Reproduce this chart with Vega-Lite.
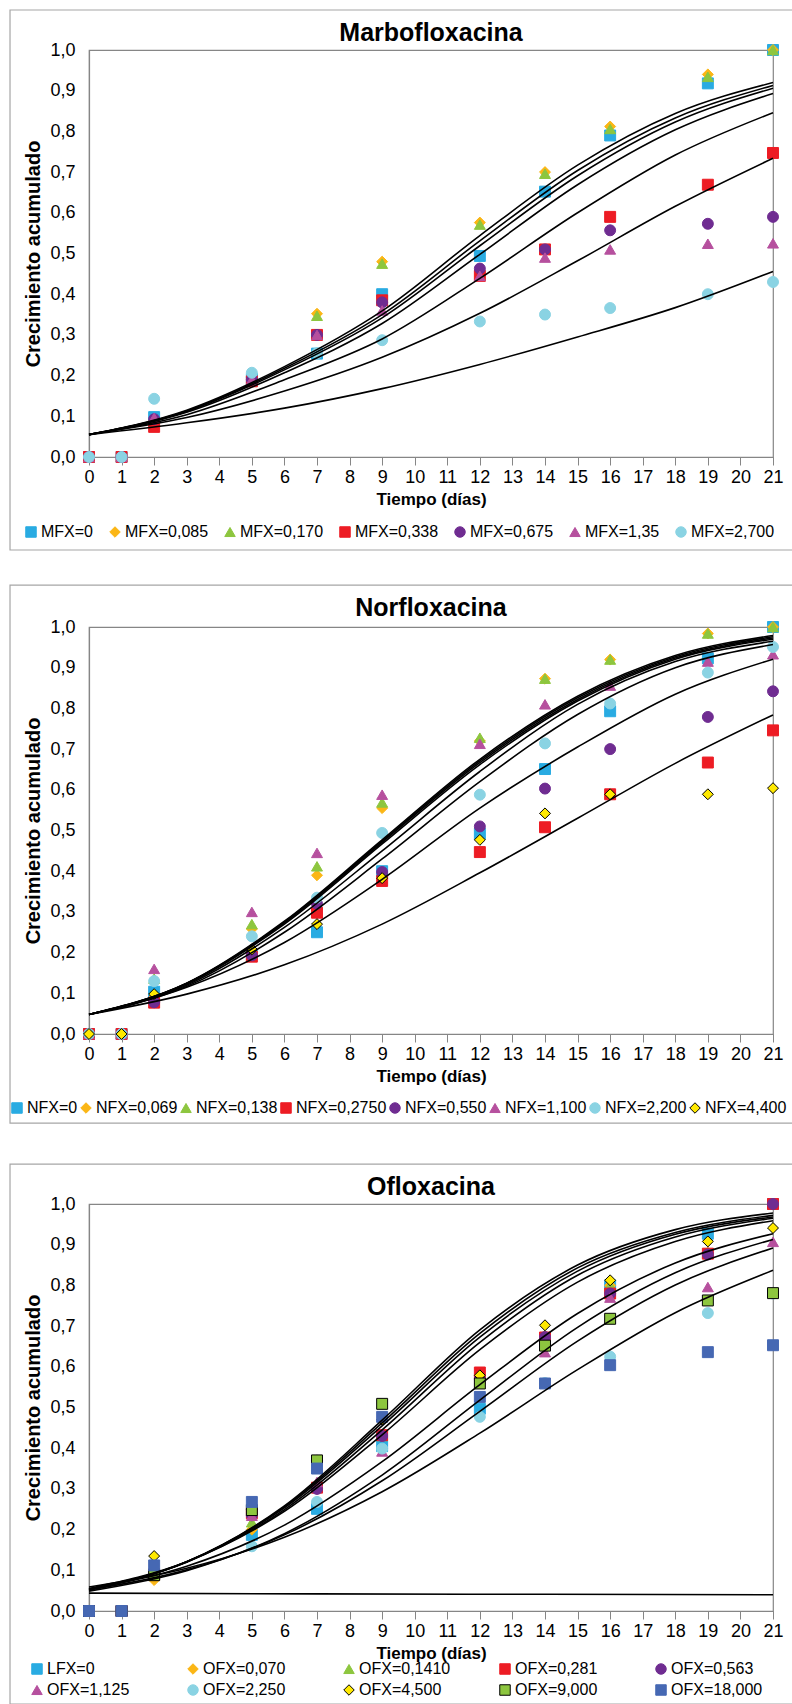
{
  "$schema": "https://vega.github.io/schema/vega-lite/v6.json",
  "background": "white",
  "padding": {"top": 8, "left": 8, "right": 0, "bottom": 0},
  "spacing": 170,
  "bounds": "flush",
  "resolve": {"scale": {"fill": "independent", "stroke": "independent", "shape": "independent"}},
  "datasets": {
    "frame": [{"k": "frame"}],
    "m_pts": [
      {"s":"MFX=0","t":0,"v":0},{"s":"MFX=0","t":1,"v":0},{"s":"MFX=0","t":2,"v":0.098},{"s":"MFX=0","t":5,"v":0.192},{"s":"MFX=0","t":7,"v":0.254},{"s":"MFX=0","t":9,"v":0.4},{"s":"MFX=0","t":12,"v":0.494},{"s":"MFX=0","t":14,"v":0.652},{"s":"MFX=0","t":16,"v":0.79},{"s":"MFX=0","t":19,"v":0.918},{"s":"MFX=0","t":21,"v":1},
      {"s":"MFX=0,085","t":0,"v":0},{"s":"MFX=0,085","t":1,"v":0},{"s":"MFX=0,085","t":2,"v":0.09},{"s":"MFX=0,085","t":5,"v":0.195},{"s":"MFX=0,085","t":7,"v":0.352},{"s":"MFX=0,085","t":9,"v":0.48},{"s":"MFX=0,085","t":12,"v":0.576},{"s":"MFX=0,085","t":14,"v":0.7},{"s":"MFX=0,085","t":16,"v":0.812},{"s":"MFX=0,085","t":19,"v":0.94},{"s":"MFX=0,085","t":21,"v":1},
      {"s":"MFX=0,170","t":0,"v":0},{"s":"MFX=0,170","t":1,"v":0},{"s":"MFX=0,170","t":2,"v":0.09},{"s":"MFX=0,170","t":5,"v":0.195},{"s":"MFX=0,170","t":7,"v":0.347},{"s":"MFX=0,170","t":9,"v":0.475},{"s":"MFX=0,170","t":12,"v":0.571},{"s":"MFX=0,170","t":14,"v":0.696},{"s":"MFX=0,170","t":16,"v":0.806},{"s":"MFX=0,170","t":19,"v":0.934},{"s":"MFX=0,170","t":21,"v":1},
      {"s":"MFX=0,338","t":0,"v":0},{"s":"MFX=0,338","t":1,"v":0},{"s":"MFX=0,338","t":2,"v":0.074},{"s":"MFX=0,338","t":5,"v":0.186},{"s":"MFX=0,338","t":7,"v":0.3},{"s":"MFX=0,338","t":9,"v":0.385},{"s":"MFX=0,338","t":12,"v":0.445},{"s":"MFX=0,338","t":14,"v":0.51},{"s":"MFX=0,338","t":16,"v":0.59},{"s":"MFX=0,338","t":19,"v":0.669},{"s":"MFX=0,338","t":21,"v":0.747},
      {"s":"MFX=0,675","t":0,"v":0},{"s":"MFX=0,675","t":1,"v":0},{"s":"MFX=0,675","t":2,"v":0.093},{"s":"MFX=0,675","t":5,"v":0.19},{"s":"MFX=0,675","t":7,"v":0.3},{"s":"MFX=0,675","t":9,"v":0.38},{"s":"MFX=0,675","t":12,"v":0.463},{"s":"MFX=0,675","t":14,"v":0.51},{"s":"MFX=0,675","t":16,"v":0.557},{"s":"MFX=0,675","t":19,"v":0.573},{"s":"MFX=0,675","t":21,"v":0.59},
      {"s":"MFX=1,35","t":0,"v":0},{"s":"MFX=1,35","t":1,"v":0},{"s":"MFX=1,35","t":2,"v":0.096},{"s":"MFX=1,35","t":5,"v":0.19},{"s":"MFX=1,35","t":7,"v":0.3},{"s":"MFX=1,35","t":9,"v":0.36},{"s":"MFX=1,35","t":12,"v":0.445},{"s":"MFX=1,35","t":14,"v":0.49},{"s":"MFX=1,35","t":16,"v":0.51},{"s":"MFX=1,35","t":19,"v":0.524},{"s":"MFX=1,35","t":21,"v":0.525},
      {"s":"MFX=2,700","t":0,"v":0},{"s":"MFX=2,700","t":1,"v":0},{"s":"MFX=2,700","t":2,"v":0.143},{"s":"MFX=2,700","t":5,"v":0.207},{"s":"MFX=2,700","t":7,"v":0.255},{"s":"MFX=2,700","t":9,"v":0.287},{"s":"MFX=2,700","t":12,"v":0.333},{"s":"MFX=2,700","t":14,"v":0.35},{"s":"MFX=2,700","t":16,"v":0.366},{"s":"MFX=2,700","t":19,"v":0.4},{"s":"MFX=2,700","t":21,"v":0.43}
    ],
    "m_fit": [
      {"c":"A","t":0,"v":0.055},{"c":"A","t":3,"v":0.115},{"c":"A","t":6,"v":0.222},{"c":"A","t":9,"v":0.359},{"c":"A","t":12,"v":0.544},{"c":"A","t":15,"v":0.717},{"c":"A","t":18,"v":0.844},{"c":"A","t":21,"v":0.92},
      {"c":"B","t":0,"v":0.055},{"c":"B","t":3,"v":0.113},{"c":"B","t":6,"v":0.218},{"c":"B","t":9,"v":0.35},{"c":"B","t":12,"v":0.531},{"c":"B","t":15,"v":0.704},{"c":"B","t":18,"v":0.833},{"c":"B","t":21,"v":0.913},
      {"c":"C","t":0,"v":0.055},{"c":"C","t":3,"v":0.112},{"c":"C","t":6,"v":0.214},{"c":"C","t":9,"v":0.342},{"c":"C","t":12,"v":0.519},{"c":"C","t":15,"v":0.691},{"c":"C","t":18,"v":0.823},{"c":"C","t":21,"v":0.906},
      {"c":"D","t":0,"v":0.055},{"c":"D","t":3,"v":0.11},{"c":"D","t":6,"v":0.207},{"c":"D","t":9,"v":0.328},{"c":"D","t":12,"v":0.498},{"c":"D","t":15,"v":0.669},{"c":"D","t":18,"v":0.804},{"c":"D","t":21,"v":0.893},
      {"c":"E","t":0,"v":0.055},{"c":"E","t":3,"v":0.104},{"c":"E","t":6,"v":0.19},{"c":"E","t":9,"v":0.29},{"c":"E","t":12,"v":0.439},{"c":"E","t":15,"v":0.6},{"c":"E","t":18,"v":0.742},{"c":"E","t":21,"v":0.846},
      {"c":"F","t":0,"v":0.056},{"c":"F","t":3,"v":0.097},{"c":"F","t":6,"v":0.162},{"c":"F","t":9,"v":0.245},{"c":"F","t":12,"v":0.353},{"c":"F","t":15,"v":0.482},{"c":"F","t":18,"v":0.616},{"c":"F","t":21,"v":0.734},
      {"c":"G","t":0,"v":0.055},{"c":"G","t":3,"v":0.084},{"c":"G","t":6,"v":0.12},{"c":"G","t":9,"v":0.168},{"c":"G","t":12,"v":0.2275},{"c":"G","t":15,"v":0.295},{"c":"G","t":18,"v":0.367},{"c":"G","t":21,"v":0.456}
    ],
    "n_pts": [
      {"s":"NFX=0","t":0,"v":0},{"s":"NFX=0","t":1,"v":0},{"s":"NFX=0","t":2,"v":0.104},{"s":"NFX=0","t":5,"v":0.195},{"s":"NFX=0","t":7,"v":0.25},{"s":"NFX=0","t":9,"v":0.4},{"s":"NFX=0","t":12,"v":0.492},{"s":"NFX=0","t":14,"v":0.651},{"s":"NFX=0","t":16,"v":0.793},{"s":"NFX=0","t":19,"v":0.923},{"s":"NFX=0","t":21,"v":1},
      {"s":"NFX=0,069","t":0,"v":0},{"s":"NFX=0,069","t":1,"v":0},{"s":"NFX=0,069","t":2,"v":0.09},{"s":"NFX=0,069","t":5,"v":0.258},{"s":"NFX=0,069","t":7,"v":0.39},{"s":"NFX=0,069","t":9,"v":0.555},{"s":"NFX=0,069","t":12,"v":0.72},{"s":"NFX=0,069","t":14,"v":0.873},{"s":"NFX=0,069","t":16,"v":0.92},{"s":"NFX=0,069","t":19,"v":0.984},{"s":"NFX=0,069","t":21,"v":1},
      {"s":"NFX=0,138","t":0,"v":0},{"s":"NFX=0,138","t":1,"v":0},{"s":"NFX=0,138","t":2,"v":0.136},{"s":"NFX=0,138","t":5,"v":0.27},{"s":"NFX=0,138","t":7,"v":0.412},{"s":"NFX=0,138","t":9,"v":0.569},{"s":"NFX=0,138","t":12,"v":0.728},{"s":"NFX=0,138","t":14,"v":0.873},{"s":"NFX=0,138","t":16,"v":0.92},{"s":"NFX=0,138","t":19,"v":0.984},{"s":"NFX=0,138","t":21,"v":1},
      {"s":"NFX=0,2750","t":0,"v":0},{"s":"NFX=0,2750","t":1,"v":0},{"s":"NFX=0,2750","t":2,"v":0.077},{"s":"NFX=0,2750","t":5,"v":0.19},{"s":"NFX=0,2750","t":7,"v":0.298},{"s":"NFX=0,2750","t":9,"v":0.376},{"s":"NFX=0,2750","t":12,"v":0.447},{"s":"NFX=0,2750","t":14,"v":0.508},{"s":"NFX=0,2750","t":16,"v":0.589},{"s":"NFX=0,2750","t":19,"v":0.667},{"s":"NFX=0,2750","t":21,"v":0.746},
      {"s":"NFX=0,550","t":0,"v":0},{"s":"NFX=0,550","t":1,"v":0},{"s":"NFX=0,550","t":2,"v":0.078},{"s":"NFX=0,550","t":5,"v":0.193},{"s":"NFX=0,550","t":7,"v":0.32},{"s":"NFX=0,550","t":9,"v":0.398},{"s":"NFX=0,550","t":12,"v":0.51},{"s":"NFX=0,550","t":14,"v":0.603},{"s":"NFX=0,550","t":16,"v":0.7},{"s":"NFX=0,550","t":19,"v":0.779},{"s":"NFX=0,550","t":21,"v":0.842},
      {"s":"NFX=1,100","t":0,"v":0},{"s":"NFX=1,100","t":1,"v":0},{"s":"NFX=1,100","t":2,"v":0.16},{"s":"NFX=1,100","t":5,"v":0.3},{"s":"NFX=1,100","t":7,"v":0.445},{"s":"NFX=1,100","t":9,"v":0.588},{"s":"NFX=1,100","t":12,"v":0.713},{"s":"NFX=1,100","t":14,"v":0.81},{"s":"NFX=1,100","t":16,"v":0.856},{"s":"NFX=1,100","t":19,"v":0.915},{"s":"NFX=1,100","t":21,"v":0.933},
      {"s":"NFX=2,200","t":0,"v":0},{"s":"NFX=2,200","t":1,"v":0},{"s":"NFX=2,200","t":2,"v":0.13},{"s":"NFX=2,200","t":5,"v":0.24},{"s":"NFX=2,200","t":7,"v":0.335},{"s":"NFX=2,200","t":9,"v":0.494},{"s":"NFX=2,200","t":12,"v":0.588},{"s":"NFX=2,200","t":14,"v":0.714},{"s":"NFX=2,200","t":16,"v":0.812},{"s":"NFX=2,200","t":19,"v":0.888},{"s":"NFX=2,200","t":21,"v":0.951},
      {"s":"NFX=4,400","t":0,"v":0},{"s":"NFX=4,400","t":1,"v":0},{"s":"NFX=4,400","t":2,"v":0.098},{"s":"NFX=4,400","t":5,"v":0.208},{"s":"NFX=4,400","t":7,"v":0.27},{"s":"NFX=4,400","t":9,"v":0.383},{"s":"NFX=4,400","t":12,"v":0.477},{"s":"NFX=4,400","t":14,"v":0.542},{"s":"NFX=4,400","t":16,"v":0.589},{"s":"NFX=4,400","t":19,"v":0.589},{"s":"NFX=4,400","t":21,"v":0.604}
    ],
    "n_fit": [
      {"c":"P1","t":0,"v":0.048},{"c":"P1","t":3,"v":0.125},{"c":"P1","t":6,"v":0.277},{"c":"P1","t":9,"v":0.477},{"c":"P1","t":12,"v":0.675},{"c":"P1","t":15,"v":0.83},{"c":"P1","t":18,"v":0.93},{"c":"P1","t":21,"v":0.979},
      {"c":"P2","t":0,"v":0.048},{"c":"P2","t":3,"v":0.125},{"c":"P2","t":6,"v":0.275},{"c":"P2","t":9,"v":0.474},{"c":"P2","t":12,"v":0.671},{"c":"P2","t":15,"v":0.826},{"c":"P2","t":18,"v":0.927},{"c":"P2","t":21,"v":0.976},
      {"c":"P3","t":0,"v":0.048},{"c":"P3","t":3,"v":0.124},{"c":"P3","t":6,"v":0.273},{"c":"P3","t":9,"v":0.471},{"c":"P3","t":12,"v":0.667},{"c":"P3","t":15,"v":0.822},{"c":"P3","t":18,"v":0.924},{"c":"P3","t":21,"v":0.973},
      {"c":"P4","t":0,"v":0.048},{"c":"P4","t":3,"v":0.123},{"c":"P4","t":6,"v":0.27},{"c":"P4","t":9,"v":0.467},{"c":"P4","t":12,"v":0.662},{"c":"P4","t":15,"v":0.818},{"c":"P4","t":18,"v":0.921},{"c":"P4","t":21,"v":0.97},
      {"c":"P5","t":0,"v":0.048},{"c":"P5","t":3,"v":0.12},{"c":"P5","t":6,"v":0.262},{"c":"P5","t":9,"v":0.45},{"c":"P5","t":12,"v":0.645},{"c":"P5","t":15,"v":0.81},{"c":"P5","t":18,"v":0.915},{"c":"P5","t":21,"v":0.965},
      {"c":"P6","t":0,"v":0.048},{"c":"P6","t":3,"v":0.117},{"c":"P6","t":6,"v":0.25},{"c":"P6","t":9,"v":0.43},{"c":"P6","t":12,"v":0.62},{"c":"P6","t":15,"v":0.785},{"c":"P6","t":18,"v":0.9},{"c":"P6","t":21,"v":0.957},
      {"c":"P7","t":0,"v":0.048},{"c":"P7","t":3,"v":0.115},{"c":"P7","t":6,"v":0.225},{"c":"P7","t":9,"v":0.38},{"c":"P7","t":12,"v":0.555},{"c":"P7","t":15,"v":0.705},{"c":"P7","t":18,"v":0.835},{"c":"P7","t":21,"v":0.921},
      {"c":"P8","t":0,"v":0.048},{"c":"P8","t":3,"v":0.098},{"c":"P8","t":6,"v":0.17},{"c":"P8","t":9,"v":0.27},{"c":"P8","t":12,"v":0.396},{"c":"P8","t":15,"v":0.53},{"c":"P8","t":18,"v":0.665},{"c":"P8","t":21,"v":0.784}
    ],
    "o_pts": [
      {"s":"LFX=0","t":0,"v":0},{"s":"LFX=0","t":1,"v":0},{"s":"LFX=0","t":2,"v":0.09},{"s":"LFX=0","t":5,"v":0.187},{"s":"LFX=0","t":7,"v":0.251},{"s":"LFX=0","t":9,"v":0.405},{"s":"LFX=0","t":12,"v":0.497},{"s":"LFX=0","t":14,"v":0.665},{"s":"LFX=0","t":16,"v":0.8},{"s":"LFX=0","t":19,"v":0.927},{"s":"LFX=0","t":21,"v":1},
      {"s":"OFX=0,070","t":0,"v":0},{"s":"OFX=0,070","t":1,"v":0},{"s":"OFX=0,070","t":2,"v":0.076},{"s":"OFX=0,070","t":5,"v":0.2},{"s":"OFX=0,070","t":7,"v":0.3},{"s":"OFX=0,070","t":9,"v":0.43},{"s":"OFX=0,070","t":12,"v":0.578},{"s":"OFX=0,070","t":14,"v":0.672},{"s":"OFX=0,070","t":16,"v":0.8},{"s":"OFX=0,070","t":19,"v":0.88},{"s":"OFX=0,070","t":21,"v":1},
      {"s":"OFX=0,1410","t":0,"v":0},{"s":"OFX=0,1410","t":1,"v":0},{"s":"OFX=0,1410","t":2,"v":0.09},{"s":"OFX=0,1410","t":5,"v":0.218},{"s":"OFX=0,1410","t":7,"v":0.31},{"s":"OFX=0,1410","t":9,"v":0.43},{"s":"OFX=0,1410","t":12,"v":0.58},{"s":"OFX=0,1410","t":14,"v":0.68},{"s":"OFX=0,1410","t":16,"v":0.8},{"s":"OFX=0,1410","t":19,"v":0.88},{"s":"OFX=0,1410","t":21,"v":1},
      {"s":"OFX=0,281","t":0,"v":0},{"s":"OFX=0,281","t":1,"v":0},{"s":"OFX=0,281","t":2,"v":0.09},{"s":"OFX=0,281","t":5,"v":0.24},{"s":"OFX=0,281","t":7,"v":0.303},{"s":"OFX=0,281","t":9,"v":0.432},{"s":"OFX=0,281","t":12,"v":0.586},{"s":"OFX=0,281","t":14,"v":0.672},{"s":"OFX=0,281","t":16,"v":0.78},{"s":"OFX=0,281","t":19,"v":0.878},{"s":"OFX=0,281","t":21,"v":1},
      {"s":"OFX=0,563","t":0,"v":0},{"s":"OFX=0,563","t":1,"v":0},{"s":"OFX=0,563","t":2,"v":0.09},{"s":"OFX=0,563","t":5,"v":0.235},{"s":"OFX=0,563","t":7,"v":0.3},{"s":"OFX=0,563","t":9,"v":0.43},{"s":"OFX=0,563","t":12,"v":0.57},{"s":"OFX=0,563","t":14,"v":0.673},{"s":"OFX=0,563","t":16,"v":0.78},{"s":"OFX=0,563","t":19,"v":0.876},{"s":"OFX=0,563","t":21,"v":1},
      {"s":"OFX=1,125","t":0,"v":0},{"s":"OFX=1,125","t":1,"v":0},{"s":"OFX=1,125","t":2,"v":0.09},{"s":"OFX=1,125","t":5,"v":0.234},{"s":"OFX=1,125","t":7,"v":0.317},{"s":"OFX=1,125","t":9,"v":0.392},{"s":"OFX=1,125","t":12,"v":0.57},{"s":"OFX=1,125","t":14,"v":0.636},{"s":"OFX=1,125","t":16,"v":0.77},{"s":"OFX=1,125","t":19,"v":0.796},{"s":"OFX=1,125","t":21,"v":0.907},
      {"s":"OFX=2,250","t":0,"v":0},{"s":"OFX=2,250","t":1,"v":0},{"s":"OFX=2,250","t":2,"v":0.09},{"s":"OFX=2,250","t":5,"v":0.159},{"s":"OFX=2,250","t":7,"v":0.268},{"s":"OFX=2,250","t":9,"v":0.399},{"s":"OFX=2,250","t":12,"v":0.477},{"s":"OFX=2,250","t":14,"v":0.56},{"s":"OFX=2,250","t":16,"v":0.625},{"s":"OFX=2,250","t":19,"v":0.732},{"s":"OFX=2,250","t":21,"v":0.78},
      {"s":"OFX=4,500","t":0,"v":0},{"s":"OFX=4,500","t":1,"v":0},{"s":"OFX=4,500","t":2,"v":0.135},{"s":"OFX=4,500","t":5,"v":0.25},{"s":"OFX=4,500","t":7,"v":0.37},{"s":"OFX=4,500","t":9,"v":0.47},{"s":"OFX=4,500","t":12,"v":0.579},{"s":"OFX=4,500","t":14,"v":0.702},{"s":"OFX=4,500","t":16,"v":0.8125},{"s":"OFX=4,500","t":19,"v":0.908},{"s":"OFX=4,500","t":21,"v":0.941},
      {"s":"OFX=9,000","t":0,"v":0},{"s":"OFX=9,000","t":1,"v":0},{"s":"OFX=9,000","t":2,"v":0.088},{"s":"OFX=9,000","t":5,"v":0.248},{"s":"OFX=9,000","t":7,"v":0.37},{"s":"OFX=9,000","t":9,"v":0.509},{"s":"OFX=9,000","t":12,"v":0.559},{"s":"OFX=9,000","t":14,"v":0.652},{"s":"OFX=9,000","t":16,"v":0.718},{"s":"OFX=9,000","t":19,"v":0.763},{"s":"OFX=9,000","t":21,"v":0.781},
      {"s":"OFX=18,000","t":0,"v":0},{"s":"OFX=18,000","t":1,"v":0},{"s":"OFX=18,000","t":2,"v":0.112},{"s":"OFX=18,000","t":5,"v":0.268},{"s":"OFX=18,000","t":7,"v":0.35},{"s":"OFX=18,000","t":9,"v":0.477},{"s":"OFX=18,000","t":12,"v":0.526},{"s":"OFX=18,000","t":14,"v":0.559},{"s":"OFX=18,000","t":16,"v":0.604},{"s":"OFX=18,000","t":19,"v":0.636},{"s":"OFX=18,000","t":21,"v":0.653}
    ],
    "o_fit": [
      {"c":"B1","t":0,"v":0.0515},{"c":"B1","t":3,"v":0.121},{"c":"B1","t":6,"v":0.2585},{"c":"B1","t":9,"v":0.469},{"c":"B1","t":12,"v":0.691},{"c":"B1","t":15,"v":0.85},{"c":"B1","t":18,"v":0.937},{"c":"B1","t":21,"v":0.978},
      {"c":"B2","t":0,"v":0.0523},{"c":"B2","t":3,"v":0.121},{"c":"B2","t":6,"v":0.256},{"c":"B2","t":9,"v":0.462},{"c":"B2","t":12,"v":0.682},{"c":"B2","t":15,"v":0.843},{"c":"B2","t":18,"v":0.93},{"c":"B2","t":21,"v":0.972},
      {"c":"B3","t":0,"v":0.0532},{"c":"B3","t":3,"v":0.121},{"c":"B3","t":6,"v":0.2535},{"c":"B3","t":9,"v":0.455},{"c":"B3","t":12,"v":0.673},{"c":"B3","t":15,"v":0.835},{"c":"B3","t":18,"v":0.9255},{"c":"B3","t":21,"v":0.968},
      {"c":"B4","t":0,"v":0.0534},{"c":"B4","t":3,"v":0.12},{"c":"B4","t":6,"v":0.249},{"c":"B4","t":9,"v":0.445},{"c":"B4","t":12,"v":0.66},{"c":"B4","t":15,"v":0.825},{"c":"B4","t":18,"v":0.919},{"c":"B4","t":21,"v":0.965},
      {"c":"B5","t":0,"v":0.0554},{"c":"B5","t":3,"v":0.121},{"c":"B5","t":6,"v":0.245},{"c":"B5","t":9,"v":0.433},{"c":"B5","t":12,"v":0.642},{"c":"B5","t":15,"v":0.808},{"c":"B5","t":18,"v":0.908},{"c":"B5","t":21,"v":0.959},
      {"c":"C6","t":0,"v":0.0541},{"c":"C6","t":3,"v":0.11},{"c":"C6","t":6,"v":0.211},{"c":"C6","t":9,"v":0.367},{"c":"C6","t":12,"v":0.556},{"c":"C6","t":15,"v":0.731},{"c":"C6","t":18,"v":0.855},{"c":"C6","t":21,"v":0.927},
      {"c":"C7","t":0,"v":0.0489},{"c":"C7","t":3,"v":0.099},{"c":"C7","t":6,"v":0.19},{"c":"C7","t":9,"v":0.334},{"c":"C7","t":12,"v":0.518},{"c":"C7","t":15,"v":0.697},{"c":"C7","t":18,"v":0.831},{"c":"C7","t":21,"v":0.913},
      {"c":"C8","t":0,"v":0.0519},{"c":"C8","t":3,"v":0.101},{"c":"C8","t":6,"v":0.187},{"c":"C8","t":9,"v":0.32},{"c":"C8","t":12,"v":0.4905},{"c":"C8","t":15,"v":0.663},{"c":"C8","t":18,"v":0.801},{"c":"C8","t":21,"v":0.892},
      {"c":"C9","t":0,"v":0.0589},{"c":"C9","t":3,"v":0.105},{"c":"C9","t":6,"v":0.181},{"c":"C9","t":9,"v":0.293},{"c":"C9","t":12,"v":0.437},{"c":"C9","t":15,"v":0.593},{"c":"C9","t":18,"v":0.733},{"c":"C9","t":21,"v":0.837},
      {"c":"Z","t":0,"v":0.044},{"c":"Z","t":7,"v":0.042},{"c":"Z","t":14,"v":0.041},{"c":"Z","t":21,"v":0.04}
    ]
  },
  "vconcat": [
    {
      "title": "Marbofloxacina",
      "width": 684, "height": 407,
      "layer": [
        {
          "data": {"name": "m_pts"},
          "mark": {"type": "point", "filled": true, "size": 120, "strokeWidth": 1, "opacity": 1},
          "encoding": {
            "x": {"field": "t", "type": "quantitative", "scale": {"domain": [0, 21], "nice": false, "zero": false}, "axis": {"title": "Tiempo (días)", "values": [0,1,2,3,4,5,6,7,8,9,10,11,12,13,14,15,16,17,18,19,20,21], "format": "d"}},
            "y": {"field": "v", "type": "quantitative", "scale": {"domain": [0, 1], "nice": false, "zero": false}, "axis": {"title": "Crecimiento acumulado", "values": [0,0.1,0.2,0.3,0.4,0.5,0.6,0.7,0.8,0.9,1], "format": ".1f"}},
            "fill": {"field": "s", "type": "nominal", "scale": {"domain": ["MFX=0","MFX=0,085","MFX=0,170","MFX=0,338","MFX=0,675","MFX=1,35","MFX=2,700"], "range": ["#29ABE2","#FBB615","#8DC63F","#ED1C24","#6F2C91","#B6509E","#8AD3E3"]}, "legend": {"title": null, "orient": "none", "legendX": -66, "legendY": 474, "direction": "horizontal", "columnPadding": 13}},
            "stroke": {"field": "s", "type": "nominal", "scale": {"domain": ["MFX=0","MFX=0,085","MFX=0,170","MFX=0,338","MFX=0,675","MFX=1,35","MFX=2,700"], "range": ["#29ABE2","#FBB615","#8DC63F","#ED1C24","#6F2C91","#B6509E","#8AD3E3"]}, "legend": {"title": null, "orient": "none", "legendX": -66, "legendY": 474, "direction": "horizontal", "columnPadding": 13}},
            "shape": {"field": "s", "type": "nominal", "scale": {"domain": ["MFX=0","MFX=0,085","MFX=0,170","MFX=0,338","MFX=0,675","MFX=1,35","MFX=2,700"], "range": ["square","diamond","triangle-up","square","circle","triangle-up","circle"]}, "legend": {"title": null, "orient": "none", "legendX": -66, "legendY": 474, "direction": "horizontal", "columnPadding": 13}}
          }
        },
        {
          "data": {"name": "m_fit"},
          "mark": {"type": "line", "color": "black", "strokeWidth": 1.6, "interpolate": "monotone"},
          "encoding": {
            "x": {"field": "t", "type": "quantitative", "scale": {"domain": [0, 21], "nice": false, "zero": false}, "axis": {"title": "Tiempo (días)", "values": [0,1,2,3,4,5,6,7,8,9,10,11,12,13,14,15,16,17,18,19,20,21], "format": "d"}},
            "y": {"field": "v", "type": "quantitative", "scale": {"domain": [0, 1], "nice": false, "zero": false}, "axis": {"title": "Crecimiento acumulado", "values": [0,0.1,0.2,0.3,0.4,0.5,0.6,0.7,0.8,0.9,1], "format": ".1f"}},
            "detail": {"field": "c", "type": "nominal"}
          }
        },
        {
          "data": {"name": "frame"},
          "mark": {"type": "rect", "fill": "transparent", "stroke": "#A6A6A6", "strokeWidth": 1.2},
          "encoding": {
            "x": {"datum": -2.425, "type": "quantitative", "scale": {"domain": [0, 21], "nice": false, "zero": false}, "axis": {"title": "Tiempo (días)", "values": [0,1,2,3,4,5,6,7,8,9,10,11,12,13,14,15,16,17,18,19,20,21], "format": "d"}},
            "x2": {"datum": 21.614},
            "y": {"datum": -0.2285, "type": "quantitative", "scale": {"domain": [0, 1], "nice": false, "zero": false}, "axis": {"title": "Crecimiento acumulado", "values": [0,0.1,0.2,0.3,0.4,0.5,0.6,0.7,0.8,0.9,1], "format": ".1f"}},
            "y2": {"datum": 1.0983}
          }
        }
      ]
    },
    {
      "title": "Norfloxacina",
      "width": 684, "height": 407,
      "layer": [
        {
          "data": {"name": "n_pts"},
          "mark": {"type": "point", "filled": true, "size": 120, "strokeWidth": 1, "opacity": 1},
          "encoding": {
            "x": {"field": "t", "type": "quantitative", "scale": {"domain": [0, 21], "nice": false, "zero": false}, "axis": {"title": "Tiempo (días)", "values": [0,1,2,3,4,5,6,7,8,9,10,11,12,13,14,15,16,17,18,19,20,21], "format": "d"}},
            "y": {"field": "v", "type": "quantitative", "scale": {"domain": [0, 1], "nice": false, "zero": false}, "axis": {"title": "Crecimiento acumulado", "values": [0,0.1,0.2,0.3,0.4,0.5,0.6,0.7,0.8,0.9,1], "format": ".1f"}},
            "fill": {"field": "s", "type": "nominal", "scale": {"domain": ["NFX=0","NFX=0,069","NFX=0,138","NFX=0,2750","NFX=0,550","NFX=1,100","NFX=2,200","NFX=4,400"], "range": ["#29ABE2","#FBB615","#8DC63F","#ED1C24","#6F2C91","#B6509E","#8AD3E3","#FFE900"]}, "legend": {"title": null, "orient": "none", "legendX": -80, "legendY": 473, "direction": "horizontal", "columnPadding": 0}},
            "stroke": {"field": "s", "type": "nominal", "scale": {"domain": ["NFX=0","NFX=0,069","NFX=0,138","NFX=0,2750","NFX=0,550","NFX=1,100","NFX=2,200","NFX=4,400"], "range": ["#29ABE2","#FBB615","#8DC63F","#ED1C24","#6F2C91","#B6509E","#8AD3E3","#000000"]}, "legend": {"title": null, "orient": "none", "legendX": -80, "legendY": 473, "direction": "horizontal", "columnPadding": 0}},
            "shape": {"field": "s", "type": "nominal", "scale": {"domain": ["NFX=0","NFX=0,069","NFX=0,138","NFX=0,2750","NFX=0,550","NFX=1,100","NFX=2,200","NFX=4,400"], "range": ["square","diamond","triangle-up","square","circle","triangle-up","circle","diamond"]}, "legend": {"title": null, "orient": "none", "legendX": -80, "legendY": 473, "direction": "horizontal", "columnPadding": 0}}
          }
        },
        {
          "data": {"name": "n_fit"},
          "mark": {"type": "line", "color": "black", "strokeWidth": 1.6, "interpolate": "monotone"},
          "encoding": {
            "x": {"field": "t", "type": "quantitative", "scale": {"domain": [0, 21], "nice": false, "zero": false}, "axis": {"title": "Tiempo (días)", "values": [0,1,2,3,4,5,6,7,8,9,10,11,12,13,14,15,16,17,18,19,20,21], "format": "d"}},
            "y": {"field": "v", "type": "quantitative", "scale": {"domain": [0, 1], "nice": false, "zero": false}, "axis": {"title": "Crecimiento acumulado", "values": [0,0.1,0.2,0.3,0.4,0.5,0.6,0.7,0.8,0.9,1], "format": ".1f"}},
            "detail": {"field": "c", "type": "nominal"}
          }
        },
        {
          "data": {"name": "frame"},
          "mark": {"type": "rect", "fill": "transparent", "stroke": "#A6A6A6", "strokeWidth": 1.2},
          "encoding": {
            "x": {"datum": -2.425, "type": "quantitative", "scale": {"domain": [0, 21], "nice": false, "zero": false}, "axis": {"title": "Tiempo (días)", "values": [0,1,2,3,4,5,6,7,8,9,10,11,12,13,14,15,16,17,18,19,20,21], "format": "d"}},
            "x2": {"datum": 21.614},
            "y": {"datum": -0.219, "type": "quantitative", "scale": {"domain": [0, 1], "nice": false, "zero": false}, "axis": {"title": "Crecimiento acumulado", "values": [0,0.1,0.2,0.3,0.4,0.5,0.6,0.7,0.8,0.9,1], "format": ".1f"}},
            "y2": {"datum": 1.103}
          }
        }
      ]
    },
    {
      "title": "Ofloxacina",
      "width": 684, "height": 407,
      "layer": [
        {
          "data": {"name": "o_pts"},
          "mark": {"type": "point", "filled": true, "size": 120, "strokeWidth": 1, "opacity": 1},
          "encoding": {
            "x": {"field": "t", "type": "quantitative", "scale": {"domain": [0, 21], "nice": false, "zero": false}, "axis": {"title": "Tiempo (días)", "values": [0,1,2,3,4,5,6,7,8,9,10,11,12,13,14,15,16,17,18,19,20,21], "format": "d"}},
            "y": {"field": "v", "type": "quantitative", "scale": {"domain": [0, 1], "nice": false, "zero": false}, "axis": {"title": "Crecimiento acumulado", "values": [0,0.1,0.2,0.3,0.4,0.5,0.6,0.7,0.8,0.9,1], "format": ".1f"}},
            "fill": {"field": "s", "type": "nominal", "scale": {"domain": ["LFX=0","OFX=0,070","OFX=0,1410","OFX=0,281","OFX=0,563","OFX=1,125","OFX=2,250","OFX=4,500","OFX=9,000","OFX=18,000"], "range": ["#29ABE2","#FBB615","#8DC63F","#ED1C24","#6F2C91","#B6509E","#8AD3E3","#FFE900","#8DC63F","#4668B3"]}, "legend": {"title": null, "orient": "none", "legendX": -60, "legendY": 457, "direction": "horizontal", "columns": 5, "gridAlign": "all", "columnPadding": 46, "rowPadding": 5}},
            "stroke": {"field": "s", "type": "nominal", "scale": {"domain": ["LFX=0","OFX=0,070","OFX=0,1410","OFX=0,281","OFX=0,563","OFX=1,125","OFX=2,250","OFX=4,500","OFX=9,000","OFX=18,000"], "range": ["#29ABE2","#FBB615","#8DC63F","#ED1C24","#6F2C91","#B6509E","#8AD3E3","#000000","#000000","#4668B3"]}, "legend": {"title": null, "orient": "none", "legendX": -60, "legendY": 457, "direction": "horizontal", "columns": 5, "gridAlign": "all", "columnPadding": 46, "rowPadding": 5}},
            "shape": {"field": "s", "type": "nominal", "scale": {"domain": ["LFX=0","OFX=0,070","OFX=0,1410","OFX=0,281","OFX=0,563","OFX=1,125","OFX=2,250","OFX=4,500","OFX=9,000","OFX=18,000"], "range": ["square","diamond","triangle-up","square","circle","triangle-up","circle","diamond","square","square"]}, "legend": {"title": null, "orient": "none", "legendX": -60, "legendY": 457, "direction": "horizontal", "columns": 5, "gridAlign": "all", "columnPadding": 46, "rowPadding": 5}}
          }
        },
        {
          "data": {"name": "o_fit"},
          "mark": {"type": "line", "color": "black", "strokeWidth": 1.6, "interpolate": "monotone"},
          "encoding": {
            "x": {"field": "t", "type": "quantitative", "scale": {"domain": [0, 21], "nice": false, "zero": false}, "axis": {"title": "Tiempo (días)", "values": [0,1,2,3,4,5,6,7,8,9,10,11,12,13,14,15,16,17,18,19,20,21], "format": "d"}},
            "y": {"field": "v", "type": "quantitative", "scale": {"domain": [0, 1], "nice": false, "zero": false}, "axis": {"title": "Crecimiento acumulado", "values": [0,0.1,0.2,0.3,0.4,0.5,0.6,0.7,0.8,0.9,1], "format": ".1f"}},
            "detail": {"field": "c", "type": "nominal"}
          }
        },
        {
          "data": {"name": "frame"},
          "mark": {"type": "rect", "fill": "transparent", "stroke": "#A6A6A6", "strokeWidth": 1.2},
          "encoding": {
            "x": {"datum": -2.425, "type": "quantitative", "scale": {"domain": [0, 21], "nice": false, "zero": false}, "axis": {"title": "Tiempo (días)", "values": [0,1,2,3,4,5,6,7,8,9,10,11,12,13,14,15,16,17,18,19,20,21], "format": "d"}},
            "x2": {"datum": 21.614},
            "y": {"datum": -0.2285, "type": "quantitative", "scale": {"domain": [0, 1], "nice": false, "zero": false}, "axis": {"title": "Crecimiento acumulado", "values": [0,0.1,0.2,0.3,0.4,0.5,0.6,0.7,0.8,0.9,1], "format": ".1f"}},
            "y2": {"datum": 1.098}
          }
        }
      ]
    }
  ],
  "config": {
    "locale": {"number": {"decimal": ",", "thousands": ".", "grouping": [3], "currency": ["", " €"]}},
    "font": "Liberation Sans, Arial, sans-serif",
    "view": {"stroke": "#868686", "strokeWidth": 1.2},
    "title": {"font": "Liberation Sans, Arial, sans-serif", "fontSize": 25, "fontWeight": "bold", "color": "#000000", "offset": -36.5, "anchor": "middle", "frame": "group"},
    "axis": {"labelFont": "Liberation Sans, Arial, sans-serif", "labelFontSize": 18, "labelColor": "#000000", "titleFont": "Liberation Sans, Arial, sans-serif", "titleFontSize": 17, "titleFontWeight": "bold", "titleColor": "#000000", "domainColor": "#868686", "domainWidth": 1.2, "tickColor": "#868686", "grid": false, "labelOverlap": false, "labelFlush": false},
    "axisX": {"tickSize": 8, "labelPadding": 3, "titlePadding": 5},
    "axisY": {"ticks": false, "labelPadding": 14, "titlePadding": 6, "titleFontSize": 20},
    "legend": {"labelFont": "Liberation Sans, Arial, sans-serif", "labelFontSize": 16, "labelColor": "#000000", "symbolSize": 110, "labelOffset": 2, "padding": 0, "symbolStrokeWidth": 1}
  }
}
